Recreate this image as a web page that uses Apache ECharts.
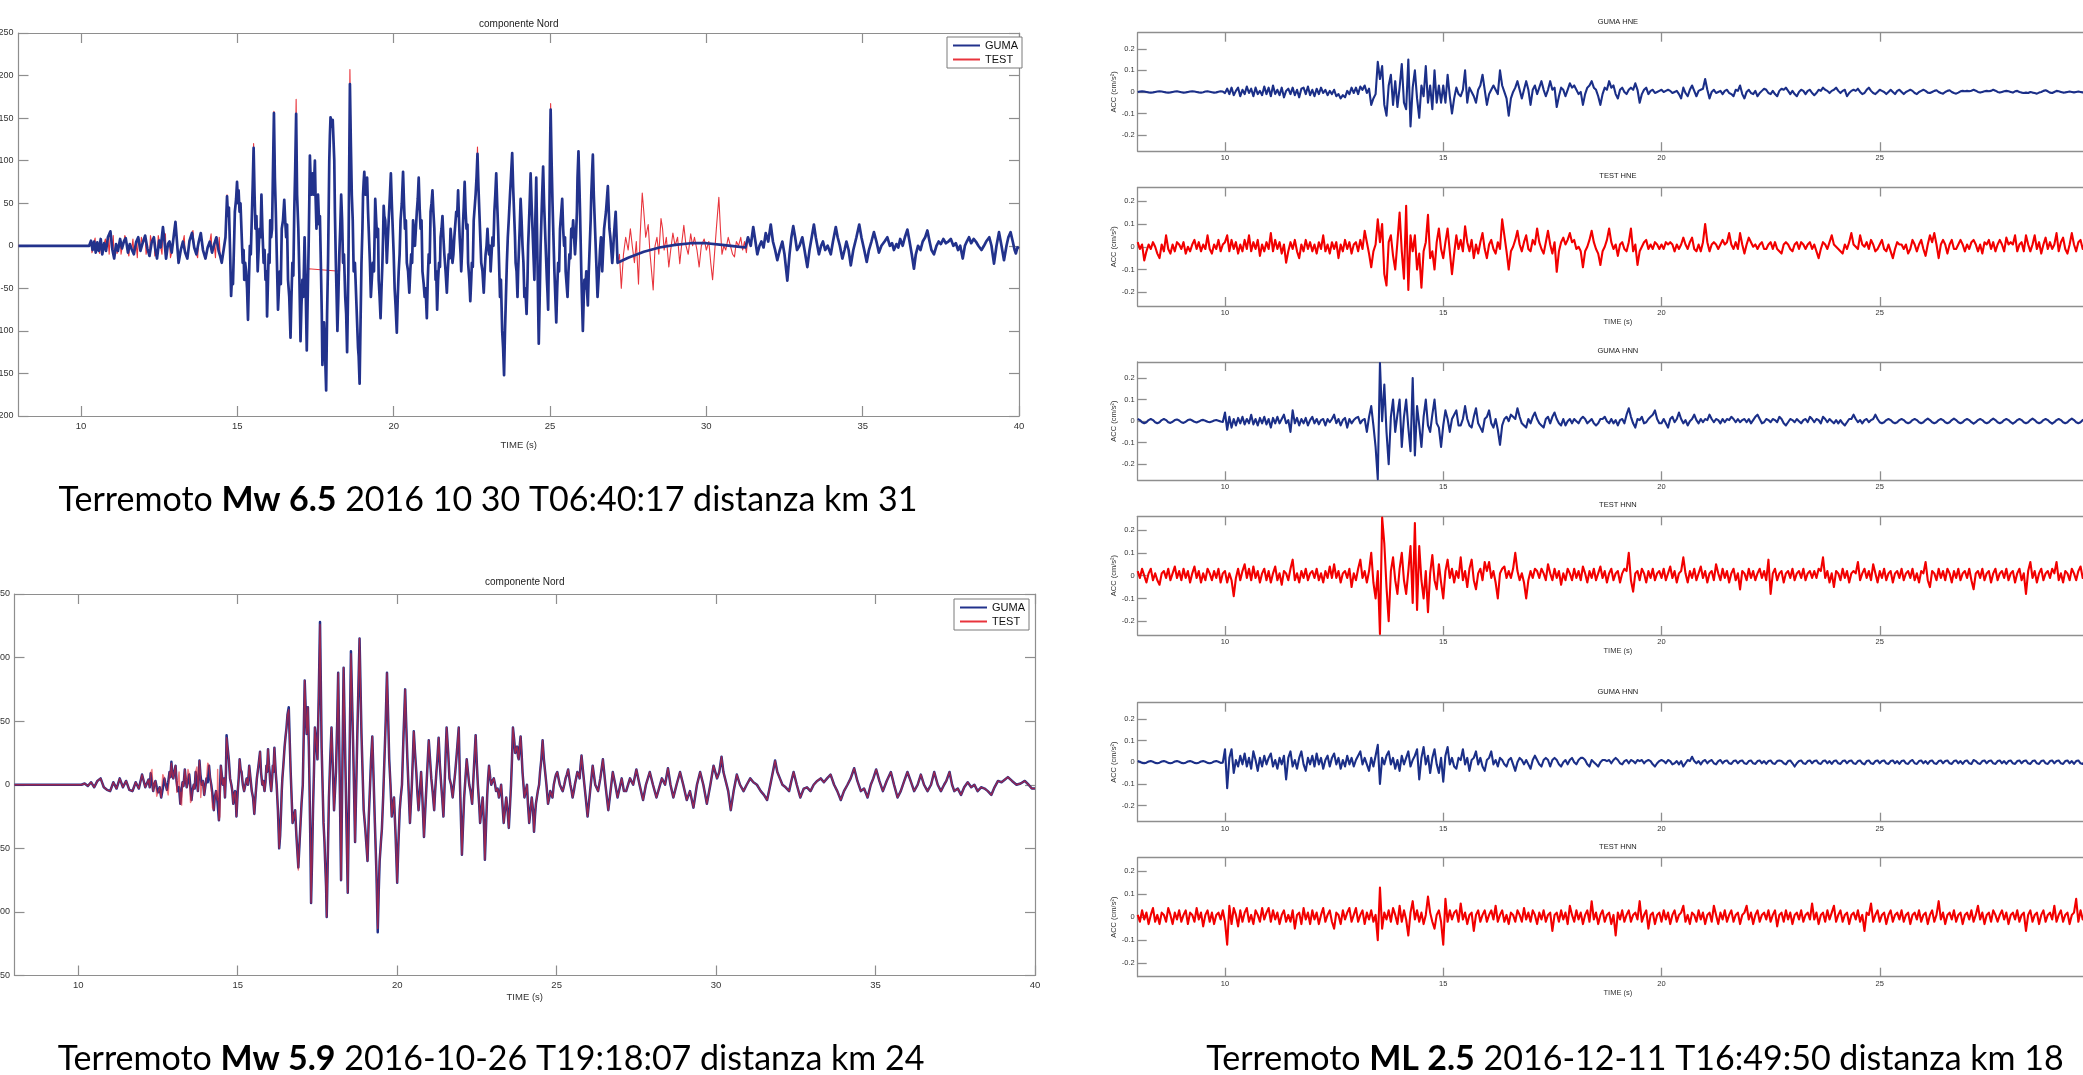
<!DOCTYPE html>
<html>
<head>
<meta charset="utf-8">
<script src="https://cdn.jsdelivr.net/npm/echarts@6.0.0/dist/echarts.min.js"></script>
<style>
html,body{margin:0;padding:0;background:#fff;}
#chart{width:2083px;height:1075px;}
</style>
</head>
<body>
<div id="chart"></div>
<script>
// ---------------- DATA ----------------
// Tick labels
const xTicksLeft = [10, 15, 20, 25, 30, 35, 40];
const xTicksRight = [10, 15, 20, 25];
const yTicksA = [-200, -150, -100, -50, 0, 50, 100, 150, 200, 250];
const yTicksB = [-150, -100, -50, 0, 50, 100, 150];
const yTicksR = [-0.2, -0.1, 0, 0.1, 0.2];

// Texts
const titleNord = 'componente Nord';
const timeLabel = 'TIME (s)';
const accLabel = 'ACC (cm/s²)';
const rightTitles = ['GUMA HNE', 'TEST HNE', 'GUMA HNN', 'TEST HNN', 'GUMA HNN', 'TEST HNN'];
const captionA = ['Terremoto ', 'Mw 6.5', ' 2016 10 30 T06:40:17 distanza km 31'];
const captionB = ['Terremoto ', 'Mw 5.9', ' 2016-10-26 T19:18:07 distanza km 24'];
const captionC = ['Terremoto ', 'ML 2.5', ' 2016-12-11 T16:49:50 distanza km 18'];

// Mw 6.5 - componente Nord, GUMA: [time s, acc]
const nordA_guma = [
[8,0],[10.26,0],[10.32,6],[10.37,-5],[10.42,5],[10.47,-8],[10.52,4],[10.57,-6],[10.63,8],[10.68,-10],[10.74,3],[10.8,-6],[10.86,10],[10.94,17],[11.0,-4],[11.06,-15],[11.12,2],[11.18,-6],[11.25,8],[11.31,-3],[11.37,5],[11.43,9],[11.5,-8],[11.56,2],[11.62,-4],[11.69,-10],[11.76,4],[11.83,10],[11.9,-6],[11.97,3],
[12.05,12],[12.12,-3],[12.19,-12],[12.26,4],[12.33,10],[12.38,-5],[12.43,-15],[12.5,6],[12.55,-2],[12.62,22],[12.67,5],[12.72,-15],[12.78,2],[12.83,5],[12.9,-8],[12.96,10],[13.02,28],[13.07,4],[13.12,-20],[13.19,-5],[13.26,5],[13.33,-8],[13.4,-15],[13.47,6],[13.55,15],[13.62,-2],[13.69,-10],[13.76,4],[13.83,15],[13.9,-5],[13.98,-15],
[14.05,-2],[14.12,5],[14.19,-8],[14.26,2],[14.33,10],[14.4,-6],[14.45,-12],[14.5,-20],[14.56,-5],[14.62,10],
[14.67,58],[14.7,35],[14.73,45],[14.77,-10],[14.8,-59],[14.83,-35],[14.86,-45],[14.9,10],[14.92,40],[14.96,55],[14.99,75],[15.02,50],[15.04,65],[15.07,40],[15.1,50],[15.14,10],[15.17,-20],[15.2,-5],[15.22,-40],[15.25,-20],[15.28,-30],[15.31,-50],[15.34,-87],[15.37,-40],[15.4,0],[15.43,-10],[15.46,30],[15.49,70],[15.52,115],[15.55,60],[15.58,20],[15.61,35],[15.65,-30],[15.68,-5],[15.71,20],[15.74,10],[15.77,60],[15.8,20],[15.84,-20],[15.87,-5],[15.9,-40],[15.93,-30],[15.95,-83],[15.98,-40],
[16.0,-10],[16.03,-20],[16.05,30],[16.08,10],[16.11,20],[16.14,90],[16.17,156],[16.2,80],[16.23,40],[16.26,-10],[16.3,-75],[16.33,-50],[16.36,-30],[16.39,-45],[16.42,20],[16.46,30],[16.5,54],[16.53,30],[16.56,10],[16.59,25],[16.62,-40],[16.66,-60],[16.7,-108],[16.73,-60],[16.76,-20],[16.79,-35],[16.82,40],[16.85,90],[16.88,155],[16.91,60],[16.95,20],[16.98,-30],
[17.02,-112],[17.05,-70],[17.08,-40],[17.11,-60],[17.15,10],[17.18,-40],[17.22,-123],[17.25,-60],[17.28,0],[17.3,50],[17.32,106],[17.35,70],[17.37,60],[17.39,75],[17.41,85],[17.44,60],[17.48,100],[17.5,60],[17.53,20],[17.55,40],[17.58,60],[17.6,40],[17.62,25],[17.64,35],[17.67,-20],[17.7,-80],[17.72,-140],[17.75,-110],[17.77,-90],[17.8,-120],[17.84,-170],[17.87,-80],[17.9,-20],[17.92,40],[17.94,100],[17.96,130],[17.98,151],
[18.0,145],[18.03,140],[18.05,148],[18.07,150],[18.1,100],[18.12,40],[18.15,-20],[18.2,-100],[18.23,-60],[18.26,-10],[18.29,20],[18.32,60],[18.35,30],[18.38,-20],[18.41,-10],[18.45,-60],[18.48,-80],[18.51,-125],[18.53,-80],[18.55,-30],[18.57,60],[18.6,190],[18.63,120],[18.66,60],[18.69,30],[18.72,-30],[18.76,-20],[18.8,-60],[18.83,-90],[18.86,-120],[18.88,-130],[18.91,-162],[18.94,-90],[18.97,-20],
[19.0,20],[19.02,60],[19.04,75],[19.06,87],[19.08,70],[19.1,60],[19.12,70],[19.15,80],[19.18,40],[19.21,10],[19.24,-20],[19.27,-60],[19.3,-40],[19.33,-20],[19.37,-30],[19.41,55],[19.44,30],[19.47,10],[19.5,20],[19.52,-40],[19.55,-60],[19.58,-85],[19.61,-50],[19.64,-20],[19.66,10],[19.68,47],[19.7,35],[19.73,30],[19.76,5],[19.78,-20],[19.81,5],[19.84,30],[19.88,60],[19.91,85],[19.94,50],[19.97,20],
[20.0,-10],[20.03,-50],[20.06,-70],[20.1,-102],[20.13,-60],[20.16,-30],[20.19,-10],[20.22,30],[20.26,50],[20.3,87],[20.33,50],[20.36,20],[20.39,30],[20.42,-20],[20.46,-30],[20.5,-55],[20.53,-30],[20.56,-10],[20.59,-20],[20.62,30],[20.65,15],[20.68,0],[20.71,20],[20.74,40],[20.77,55],[20.8,80],[20.83,45],[20.86,20],[20.89,30],[20.92,-30],[20.96,-45],[20.99,-60],
[21.02,-50],[21.06,-85],[21.09,-40],[21.12,-10],[21.15,-20],[21.18,40],[21.21,50],[21.24,65],[21.27,40],[21.3,20],[21.32,-10],[21.34,-40],[21.36,-30],[21.39,-75],[21.42,-40],[21.45,-20],[21.48,-25],[21.5,10],[21.53,20],[21.56,35],[21.59,10],[21.62,-10],[21.66,-30],[21.7,-55],[21.73,-30],[21.76,-10],[21.79,-15],[21.82,20],[21.85,5],[21.88,-20],[21.91,-10],[21.94,10],[21.97,25],
[22.0,40],[22.03,35],[22.06,65],[22.09,30],[22.11,10],[22.14,-10],[22.16,-30],[22.19,-5],[22.21,20],[22.24,45],[22.27,75],[22.3,40],[22.33,20],[22.36,25],[22.38,-20],[22.42,-40],[22.45,-65],[22.48,-40],[22.5,-20],[22.53,-25],[22.56,30],[22.59,45],[22.62,60],[22.65,80],[22.68,108],[22.71,70],[22.74,40],[22.77,10],[22.8,-20],[22.84,-30],[22.88,-55],[22.91,-30],[22.94,-10],[22.97,0],
[23.0,20],[23.02,5],[23.05,-10],[23.08,0],[23.1,-30],[23.13,-10],[23.16,10],[23.19,0],[23.22,40],[23.25,60],[23.28,85],[23.31,50],[23.34,20],[23.37,-20],[23.4,-60],[23.43,-40],[23.47,-100],[23.5,-120],[23.53,-152],[23.56,-100],[23.59,-60],[23.62,-20],[23.65,10],[23.68,30],[23.72,60],[23.75,80],[23.79,109],[23.82,70],[23.85,40],[23.88,10],[23.9,-20],[23.93,-30],[23.96,-60],[23.98,-30],
[24.01,0],[24.03,20],[24.06,55],[24.09,30],[24.12,0],[24.15,-20],[24.18,-60],[24.21,-50],[24.25,-80],[24.28,-40],[24.3,0],[24.34,40],[24.38,85],[24.41,50],[24.44,20],[24.47,-10],[24.5,-40],[24.53,30],[24.56,80],[24.58,30],[24.6,-20],[24.62,-70],[24.64,-115],[24.67,-60],[24.7,0],[24.74,50],[24.78,93],[24.81,50],[24.84,20],[24.87,-10],[24.9,-40],[24.92,-55],[24.94,-75],[24.96,-20],[24.98,40],
[25.0,110],[25.02,160],[25.05,100],[25.08,50],[25.11,10],[25.14,-30],[25.17,-60],[25.2,-90],[25.23,-50],[25.26,-20],[25.29,-30],[25.32,20],[25.35,35],[25.39,55],[25.42,20],[25.45,0],[25.48,10],[25.5,-30],[25.53,-45],[25.56,-60],[25.59,-30],[25.62,-10],[25.65,-15],[25.68,20],[25.71,10],[25.74,30],[25.77,10],[25.8,-10],[25.83,10],[25.86,40],[25.88,80],[25.91,111],[25.94,70],[25.96,40],
[26.0,-30],[26.02,-60],[26.05,-100],[26.08,-60],[26.1,-40],[26.13,-50],[26.16,-30],[26.18,-50],[26.21,-70],[26.24,-30],[26.27,0],[26.3,30],[26.32,60],[26.35,90],[26.37,107],[26.4,60],[26.43,30],[26.46,0],[26.48,-20],[26.5,-40],[26.52,-60],[26.55,-40],[26.58,-20],[26.6,-5],[26.63,10],[26.65,-10],[26.67,-30],[26.7,-5],[26.73,20],[26.76,30],[26.79,40],[26.82,55],[26.85,70],[26.88,40],[26.9,20],[26.93,10],[26.95,0],[26.97,-10],[26.99,-20],
[27.02,-5],[27.04,10],[27.07,25],[27.1,40],[27.13,10],[27.16,-20],
[27.5,-14],[28,-7],[28.5,-2],[29,1],[29.5,3],[30,3],[30.5,1],[31,-1],[31.25,-2],
[31.33,10],[31.42,0],[31.5,22],[31.57,5],[31.63,-10],[31.7,0],[31.76,5],[31.83,-2],[31.9,15],[31.98,5],[32.06,25],[32.13,5],[32.2,-5],[32.27,-17],[32.35,-5],[32.43,5],[32.5,-10],[32.59,-41],[32.66,-10],[32.72,10],[32.78,23],[32.84,10],[32.9,-5],[32.98,0],[33.07,10],[33.14,-5],[33.23,-25],[33.3,-5],[33.37,10],[33.44,25],[33.5,10],[33.55,0],[33.6,-10],[33.67,0],[33.73,5],[33.8,-5],[33.88,0],[33.98,-10],
[34.05,5],[34.14,22],[34.2,10],[34.27,0],[34.35,-15],[34.42,-5],[34.48,5],[34.55,-5],[34.62,-23],[34.7,-5],[34.8,10],[34.89,25],[34.96,10],[35.05,-5],[35.13,-19],[35.2,-5],[35.28,5],[35.36,16],[35.44,5],[35.52,-8],[35.6,0],[35.7,5],[35.79,10],[35.87,0],[35.94,3],
[36.0,-5],[36.08,2],[36.14,-2],[36.2,8],[36.28,0],[36.35,10],[36.43,19],[36.5,5],[36.57,-10],[36.64,-27],[36.7,-10],[36.77,0],[36.85,-5],[36.92,5],[37.0,10],[37.07,18],[37.14,5],[37.2,-5],[37.28,-10],[37.36,0],[37.43,5],[37.5,2],[37.58,8],[37.66,3],[37.74,5],[37.82,8],[37.9,0],[37.98,3],
[38.05,-5],[38.12,0],[38.2,-15],[38.27,0],[38.33,5],[38.4,10],[38.47,3],[38.55,8],[38.62,5],[38.7,0],[38.8,-5],[38.88,0],[38.95,5],[39.05,10],[39.12,0],[39.2,-21],[39.28,0],[39.36,16],[39.44,0],[39.52,-17],[39.6,0],[39.66,10],[39.73,16],[39.8,5],[39.86,-5],[39.9,-9],[39.95,-2],[40,-3]
];
// Mw 6.5 - TEST: where it departs from GUMA
const nordA_testGapWindow = [17.25, 18.3];
const nordA_testGap = [[17.27,-27],[18.27,-30]];
const nordA_testTailWindow = [27.17, 31.3];
const nordA_testTail = [
[27.22,-10],[27.28,-50],[27.35,-10],[27.42,10],[27.5,-5],[27.57,20],[27.63,0],[27.7,-20],[27.76,5],[27.83,-45],[27.88,10],[27.95,62],[28.0,40],[28.06,10],[28.14,25],[28.2,-10],[28.3,-52],[28.36,0],[28.42,10],[28.48,-10],[28.55,32],[28.6,20],[28.65,-5],[28.72,10],[28.8,-25],[28.86,-5],[28.93,15],
[29.0,0],[29.08,10],[29.15,-21],[29.22,5],[29.28,24],[29.35,0],[29.42,-10],[29.5,14],[29.56,0],[29.62,10],[29.7,-5],[29.77,-25],[29.84,0],[29.93,8],[30.0,-5],[30.08,5],[30.14,-20],[30.2,-40],[30.26,-10],[30.32,20],[30.4,57],[30.45,20],[30.5,-10],[30.56,0],[30.62,-5],[30.7,10],[30.77,0],[30.84,-10],[30.9,-13],[30.96,5],[31.03,0],[31.1,10],[31.16,-5],[31.22,5],[31.28,-8]
];
const nordA_testPeaks = [[14.67,60],[15.52,120],[16.17,158],[16.88,172],[18.6,207],[22.68,116],[25.02,167],[26.37,105]];
const nordA_testNoise = [
[10.35,-8],[10.45,9],[10.6,-9],[10.78,8],[10.9,-10],[11.03,12],[11.15,-9],[11.28,-10],[11.4,12],[11.53,-12],[11.66,8],[11.8,-14],[11.93,10],[12.08,-10],[12.22,12],[12.36,-12],[12.47,12],[12.59,-10],[12.7,14],[12.86,-14],[12.99,18],[13.15,-18],[13.3,12],[13.44,-16],[13.58,18],[13.73,-14],[13.87,16],[14.02,-16],[14.16,14],[14.3,-14],[14.42,10],[14.54,-22]
];

// Mw 5.9 - componente Nord, GUMA: [time s, acc]
const nordB_guma = [
[8,0],[10.1,0],[10.2,1],[10.3,-1],[10.4,2],[10.5,-2],[10.6,3],[10.7,5],[10.8,-2],[10.9,-4],[11.0,-5],[11.1,2],[11.2,-3],[11.3,5],[11.4,-2],[11.5,3],[11.6,-4],[11.7,-5],[11.8,2],[11.9,-3],[12.0,8],[12.1,-2],
[12.2,4],[12.24,-2],[12.27,9],[12.31,2],[12.35,-5],[12.38,0],[12.42,3],[12.46,-2],[12.5,-6],[12.55,-2],[12.6,-10],[12.65,-3],[12.7,5],[12.74,0],[12.78,-4],[12.82,2],[12.86,10],[12.89,6],[12.92,18],[12.95,8],[12.98,5],[13.01,10],[13.05,15],[13.08,3],[13.12,-5],[13.16,-2],[13.2,-15],[13.23,-6],[13.27,2],[13.3,-1],[13.34,12],[13.37,4],[13.4,-2],[13.44,3],[13.48,8],[13.52,-3],[13.55,-12],[13.58,-5],[13.62,0],[13.65,-3],[13.68,10],[13.72,3],[13.75,-5],[13.77,2],[13.8,19],[13.83,8],[13.87,0],[13.91,3],[13.95,-8],[13.98,-2],
[14.02,5],[14.06,2],[14.1,15],[14.13,6],[14.17,0],[14.21,-8],[14.25,-20],[14.28,-10],[14.32,-5],[14.36,-12],[14.41,-28],[14.44,-5],[14.47,15],[14.5,8],[14.53,0],[14.57,5],[14.6,-10],[14.63,10],[14.65,39],[14.68,30],[14.72,20],[14.76,5],[14.8,0],[14.83,-5],[14.86,-15],[14.89,-8],[14.92,-5],[14.94,-12],[14.96,-25],[15.0,-5],[15.03,5],[15.06,20],[15.09,12],[15.12,10],[15.16,0],[15.2,-5],[15.24,0],[15.28,5],[15.32,0],[15.36,15],[15.4,5],[15.44,-5],[15.48,-10],[15.52,-23],[15.56,-8],[15.6,5],[15.65,15],[15.7,26],[15.73,10],[15.77,0],[15.8,3],[15.84,-5],[15.87,2],[15.9,15],[15.92,10],[15.95,28],[15.98,15],
[16.0,10],[16.02,2],[16.05,-5],[16.08,5],[16.1,15],[16.12,10],[16.15,29],[16.19,10],[16.22,0],[16.26,-20],[16.3,-50],[16.33,-40],[16.36,-20],[16.38,-5],[16.4,5],[16.43,15],[16.47,30],[16.5,38],[16.53,45],[16.56,55],[16.6,61],[16.63,35],[16.66,10],[16.69,-10],[16.72,-30],[16.76,-25],[16.8,-20],[16.84,-40],[16.9,-65],[16.94,-45],[16.97,-30],
[17.0,-15],[17.04,0],[17.07,40],[17.1,82],[17.13,60],[17.16,40],[17.18,50],[17.2,61],[17.23,30],[17.25,0],[17.28,-50],[17.3,-93],[17.33,-60],[17.36,-20],[17.39,10],[17.42,45],[17.46,35],[17.5,20],[17.54,70],[17.58,128],[17.6,90],[17.63,30],[17.66,0],[17.69,-30],[17.72,-45],[17.74,-60],[17.77,-80],[17.79,-104],[17.83,-50],[17.86,-10],[17.9,20],[17.94,45],[17.98,15],
[18.02,-20],[18.05,-5],[18.08,10],[18.12,50],[18.15,88],[18.2,0],[18.24,-75],[18.28,10],[18.32,92],[18.38,10],[18.45,-85],[18.5,10],[18.55,105],[18.62,30],[18.68,-45],[18.75,40],[18.82,115],[18.88,40],[18.95,-20],
[19.0,-35],[19.07,-60],[19.11,-25],[19.15,0],[19.18,20],[19.22,38],[19.26,5],[19.3,-30],[19.35,-70],[19.39,-116],[19.42,-85],[19.45,-60],[19.49,-45],[19.52,-35],[19.56,-10],[19.6,20],[19.64,50],[19.68,88],[19.72,50],[19.75,20],[19.79,0],[19.83,-25],[19.87,-15],[19.9,-10],[19.95,-40],
[20.0,-77],[20.04,-45],[20.08,-20],[20.11,-10],[20.15,0],[20.2,40],[20.25,75],[20.28,50],[20.32,20],[20.36,-5],[20.4,-30],[20.43,-15],[20.46,0],[20.49,20],[20.52,42],[20.56,25],[20.6,10],[20.63,-5],[20.67,-20],[20.71,-5],[20.75,10],[20.79,-10],[20.84,-41],[20.88,-20],[20.92,0],[20.95,15],[20.99,35],
[21.03,20],[21.07,5],[21.11,-5],[21.16,-20],[21.19,-5],[21.23,10],[21.26,20],[21.3,37],[21.34,15],[21.38,0],[21.41,-10],[21.45,-25],[21.48,-5],[21.5,10],[21.52,25],[21.55,45],[21.6,25],[21.64,5],[21.69,0],[21.74,-10],[21.78,0],[21.82,10],[21.87,25],[21.93,45],[21.97,0],
[22.03,-55],[22.06,-35],[22.1,-10],[22.14,5],[22.18,20],[22.22,10],[22.26,0],[22.3,-5],[22.35,-15],[22.4,10],[22.46,39],[22.5,15],[22.53,0],[22.57,-15],[22.6,-30],[22.64,-20],[22.68,-10],[22.72,-30],[22.75,-59],[22.79,-30],[22.82,-10],[22.85,5],[22.88,15],[22.92,5],[22.95,0],[22.99,3],
[23.03,5],[23.07,0],[23.1,-5],[23.15,-3],[23.19,-10],[23.23,-5],[23.26,0],[23.3,-15],[23.34,-30],[23.38,-20],[23.42,-10],[23.46,-20],[23.5,-34],[23.54,-15],[23.57,0],[23.6,20],[23.63,45],[23.67,35],[23.7,25],[23.73,28],[23.76,30],[23.79,22],[23.81,20],[23.84,30],[23.87,38],[23.9,25],[23.93,10],[23.96,0],[23.99,-10],
[24.03,-5],[24.07,0],[24.1,-15],[24.14,-30],[24.18,-20],[24.22,-10],[24.26,-20],[24.29,-37],[24.32,-25],[24.35,-15],[24.38,-10],[24.41,-5],[24.45,0],[24.48,10],[24.52,20],[24.56,35],[24.6,20],[24.64,10],[24.68,0],[24.73,-15],[24.77,-10],[24.8,-5],[24.84,-5],[24.87,-10],[24.91,0],[24.95,5],[24.98,8],
[25.02,10],[25.06,5],[25.1,0],[25.15,-3],[25.19,-5],[25.24,0],[25.28,5],[25.32,8],[25.36,12],[25.4,5],[25.43,0],[25.47,-5],[25.5,-10],[25.54,-5],[25.57,0],[25.61,5],[25.65,10],[25.69,8],[25.72,5],[25.75,15],[25.78,23],[25.83,10],[25.87,0],[25.92,-12],[25.97,-25],
[26.01,-15],[26.05,-5],[26.13,15],[26.21,0],[26.3,-5],[26.37,5],[26.45,20],[26.53,0],[26.62,-20],[26.69,-5],[26.76,10],[26.84,0],[26.91,-10],[26.98,-2],[27.04,5],[27.11,-5],[27.18,-5],[27.3,5],[27.4,0],[27.5,12],[27.6,0],[27.71,-12],[27.8,0],[27.92,10],
[28.02,0],[28.13,-10],[28.22,-2],[28.3,5],[28.4,0],[28.49,13],[28.57,0],[28.66,-10],[28.76,0],[28.87,10],[28.97,0],[29.08,-12],[29.18,-5],[29.29,-18],[29.4,0],[29.5,10],[29.6,0],[29.71,-15],[29.82,0],[29.92,15],
[30.03,5],[30.1,10],[30.17,22],[30.23,10],[30.29,10],[30.38,-5],[30.46,-20],[30.55,-5],[30.65,8],[30.75,0],[30.86,-5],[30.96,0],[31.07,5],[31.17,2],[31.28,0],[31.4,-5],[31.5,-8],[31.6,-12],[31.7,0],[31.78,10],[31.85,19],[31.92,10],
[32.0,5],[32.08,0],[32.18,-2],[32.29,-5],[32.36,3],[32.43,10],[32.53,0],[32.64,-10],[32.75,-3],[32.85,-2],[32.96,-5],[33.06,0],[33.17,3],[33.28,5],[33.38,2],[33.48,5],[33.59,8],[33.7,0],[33.8,-5],[33.91,-12],
[34.01,-5],[34.12,0],[34.22,5],[34.33,13],[34.43,3],[34.54,-5],[34.64,-3],[34.75,-10],[34.85,0],[34.93,5],[35.02,12],[35.12,3],[35.23,-5],[35.35,3],[35.48,10],[35.58,0],[35.69,-10],[35.79,-5],[35.9,3],
[36.0,10],[36.1,3],[36.21,-5],[36.32,0],[36.42,8],[36.52,0],[36.63,-5],[36.74,0],[36.84,10],[36.95,0],[37.05,-5],[37.15,0],[37.22,3],[37.32,10],[37.4,0],[37.47,-5],[37.58,-3],[37.68,-8],[37.78,-2],[37.89,2],
[38.0,-2],[38.1,0],[38.2,-5],[38.31,-2],[38.42,-3],[38.52,-5],[38.63,-8],[38.73,-2],[38.84,3],[38.95,2],[39.05,4],[39.15,6],[39.28,3],[39.42,0],[39.55,1],[39.68,3],[39.8,0],[39.9,-3],[40,-3]
];
// Mw 5.9 - TEST: extra / different points (the rest coincides with GUMA)
const nordB_testDiff = [
[12.31,12],[12.46,-9],[12.65,8],[12.82,-8],[12.92,17],[13.09,-6],[13.16,10],[13.24,-16],[13.44,12],[13.52,-14],[13.72,14],[13.84,-10],[14.06,17],[14.21,-18],[14.37,12],[14.44,-25],[14.65,37],[16.6,59],[16.9,-67],[17.58,126],[18.55,103],[19.39,-113]
];

// ML 2.5 traces, sampled every 0.05 s from 8.0 s; one row = 0.5 s
const hneGuma = [
[0,.002,.003,.002,0,-.002,-.003,-.002,0,.002],
[.003,.002,0,-.002,-.003,-.002,0,.002,.003,.001],
[-.001,-.003,-.002,0,.002,.003,.002,0,-.002,-.003],
[-.001,.002,.003,.001,-.001,-.003,-.002,.001,.003,.002],
[-.005,.015,-.01,.02,-.015,.005,.02,-.02,.01,-.01],
[.025,-.005,.015,-.02,.02,-.01,.005,-.015,.025,-.01],
[.02,-.02,.03,-.01,.01,-.015,.02,-.025,.005,.015],
[-.01,.02,-.015,.01,-.025,.015,.02,-.01,.025,-.015],
[.01,-.02,.015,-.01,.02,-.005,.01,-.015,.005,-.01],
[.01,-.02,-.01,-.03,-.015,-.025,.005,-.01,.02,-.005],
[.02,-.01,.025,.01,.03,-.005,.015,-.06,-.03,-.01],
[.14,.06,.12,-.06,-.11,.03,.08,-.06,.05,-.07],
[.02,.13,-.05,-.08,.15,-.16,.02,.1,-.03,-.12],
[.03,-.02,.12,-.05,.03,-.08,.1,-.05,.03,-.05],
[.03,-.05,.08,-.02,-.1,-.03,.02,-.01,-.02,.01],
[.1,-.05,.02,0,-.02,-.05,.01,.03,.08,.01],
[-.06,-.01,.01,.03,.01,-.01,.1,.03,0,-.03],
[-.11,-.03,0,.02,.05,.01,-.03,.01,.05,.01],
[-.06,.01,.03,-.01,.02,.05,.01,-.02,.01,.05],
[.01,.02,-.07,-.02,.02,.01,-.02,.01,.04,.02],
[.03,.01,-.01,0,-.06,-.01,.02,.03,.05,.02],
[.01,-.02,-.06,-.01,.02,.01,.05,.02,.03,-.01],
[-.03,.01,.02,0,-.01,.01,.02,.01,.04,.01],
[-.05,-.01,.01,.02,-.01,.005,.01,-.005,0,.005],
[.01,0,.005,.01,.005,-.005,0,.005,-.01,-.03],
[.02,-.005,-.02,.01,.03,.005,-.02,.005,.01,.015],
[.06,.01,-.03,0,.01,-.005,0,.005,-.01,.005],
[.01,-.005,-.01,-.02,.01,.005,.03,-.01,-.03,0],
[.01,-.005,-.01,.005,-.02,-.005,.005,.015,.01,-.005],
[-.01,.005,-.01,-.02,.005,.015,.01,.02,.005,-.01],
[.005,-.01,-.02,0,.01,.005,-.01,.005,.01,-.005],
[-.015,-.005,.01,.005,.02,.01,.005,-.005,.005,.01],
[.02,.005,-.005,.005,.01,-.02,-.005,.005,.01,.005],
[.015,0,-.01,-.005,.01,.02,.005,-.005,-.01,0],
[.01,.005,0,-.01,0,.01,0,-.01,.005,.01],
[0,-.01,0,.005,.01,.005,-.005,-.01,0,.005],
[.01,.005,-.003,-.005,0,.005,.008,0,-.005,-.008],
[0,.005,.008,0,-.005,-.008,-.003,.003,.005,.003],
[.005,.003,.006,.01,.006,0,-.003,0,.003,.005],
[.003,.005,.01,.006,0,-.003,0,.003,.005,.003],
[0,-.003,.003,.005,0,-.003,-.005,-.003,-.005,0],
[-.003,-.005,-.008,-.003,0,.005,.008,.003,-.003,-.005],
[0,.005,.003,0,-.003,-.002,0,.002,0,-.002],
[0,.002,0,-.002,0,.002,0,0,0,0]
];
const hneTest = [
[.02,-.01,.01,-.06,-.02,.01,-.01,.02,0,-.03],
[-.05,.01,-.02,.05,-.01,-.03,.01,-.02,.02,.01],
[-.01,.02,-.03,0,-.02,.01,.03,-.01,.02,-.02],
[.01,-.01,.05,-.01,-.03,.01,-.01,.03,-.02,.01],
[.02,.05,-.02,.03,-.01,.02,-.03,.01,-.02,.03],
[-.01,.05,-.02,.02,-.01,.03,-.04,.01,-.02,.02],
[-.01,.06,-.02,.03,-.01,.02,-.03,.01,-.07,-.02],
[.02,-.01,.03,-.02,-.05,.01,-.02,.03,-.01,.02],
[-.02,.01,-.03,.02,-.01,.05,-.02,.01,-.03,.02],
[-.01,.02,-.05,.01,-.02,.03,-.01,.02,-.03,.01],
[.02,-.02,.03,-.01,.07,.02,-.03,-.09,-.02,.01],
[.12,.02,.1,-.12,-.17,.02,.05,-.04,-.1,.02],
[.15,-.02,-.14,.18,-.19,.05,-.02,.05,-.1,-.03],
[-.18,-.02,.02,.14,-.05,-.02,-.1,.02,.08,-.01],
[-.05,.02,.08,-.02,-.12,-.03,.05,-.01,.03,-.02],
[.09,.02,-.02,.03,-.05,.01,-.03,.02,.06,-.01],
[-.05,.01,.03,-.01,-.03,.02,-.01,.12,.05,-.02],
[-.1,-.02,0,.03,.07,.01,-.02,.02,.05,-.01],
[-.02,.03,.01,.08,.02,-.01,-.03,.02,.07,.01],
[-.03,.02,-.11,-.02,.02,.04,.01,.03,.06,.02],
[.03,-.01,0,-.02,-.09,-.02,0,.03,.07,.02],
[-.01,-.03,-.08,-.02,0,.03,.08,.02,-.01,.01],
[-.04,.01,.02,-.01,-.02,.02,.08,-.02,.01,-.08],
[-.02,0,.02,.03,-.01,.01,-.01,.02,.01,-.01],
[.01,-.01,.02,.01,.02,.01,-.02,.01,-.01,.01],
[.04,.01,-.01,.02,.04,-.01,-.02,.01,-.02,.02],
[.1,.02,-.02,.01,.02,.01,-.01,.01,.03,.01],
[.02,.06,.01,-.01,.02,-.01,.06,.01,-.03,.01],
[.04,.02,0,.01,-.01,.01,.02,-.01,-.01,.01],
[.02,-.01,.02,-.01,-.02,-.03,.01,.02,.01,-.01],
[-.02,.01,.02,-.01,.02,.01,-.01,.01,.02,-.01],
[.01,-.02,-.05,-.01,.02,.01,-.01,.02,.05,.01],
[0,-.01,-.02,-.03,.01,-.01,.02,.06,.01,0],
[-.01,.05,.01,0,.02,-.01,.03,.01,-.02,-.01],
[.01,.03,-.01,-.02,.01,-.02,-.05,-.01,.02,.01],
[.01,-.01,.01,-.03,-.01,.03,.01,-.02,.01,.03],
[-.01,-.04,.01,.05,.02,.06,.01,-.05,.01,.03],
[.01,-.03,.01,.03,-.01,-.01,.01,.03,.01,-.02],
[.01,-.01,.02,.03,.01,-.02,.01,-.03,.02,.01],
[.03,-.01,.02,-.02,.01,.03,.01,-.02,.04,.01],
[.02,.01,.05,-.02,.01,.02,-.02,.05,.01,-.02],
[.01,.05,-.01,.02,-.03,.01,.04,-.01,.02,-.01],
[.01,.06,-.02,.02,.04,-.01,-.03,.01,.06,.01],
[-.02,.02,.03,-.01,.02,.01,-.02,.01,.03,.01]
];
const hnnGuma = [
[.01,.005,-.005,-.01,-.005,.005,.01,.005,-.005,-.01],
[-.005,.005,.01,.005,-.005,-.008,-.003,.005,.008,.003],
[-.005,-.008,-.003,.005,.008,.003,-.003,-.006,-.002,.004],
[.006,.002,-.003,-.005,-.002,.003,.005,.002,-.002,-.004],
[.04,-.04,.02,-.03,.01,-.02,.015,-.01,.02,-.015],
[.01,-.01,.03,-.015,.01,-.02,.015,-.01,.02,-.015],
[.01,-.03,.015,-.01,.02,-.01,.01,.03,-.01,.005],
[-.05,.05,-.01,.015,-.02,.01,-.01,.015,-.02,.005],
[.02,-.01,.01,-.015,.005,.01,-.02,.01,-.005,.01],
[.03,-.01,.01,-.02,.005,.015,-.03,.01,-.01,.005],
[.015,.02,-.01,.005,.01,-.05,.02,.07,-.02,-.12],
[-.27,.27,0,.17,-.05,-.2,.02,.1,-.05,.03],
[.1,-.12,.02,.1,-.03,-.14,.2,-.16,.07,-.02],
[-.12,.02,.1,-.02,-.05,.03,.1,-.01,-.03,-.12],
[-.02,.05,.01,-.05,.01,.03,.05,-.02,-.02,.01],
[.07,.01,-.02,-.03,.02,.06,-.01,-.03,-.05,.01],
[.02,.05,-.01,-.03,.01,-.04,-.11,-.02,.01,.02],
[0,.03,.02,.01,.06,.02,-.01,-.02,-.03,.01],
[-.01,.02,.04,.01,-.01,-.02,-.03,.01,.02,-.01],
[.02,.04,.01,-.01,-.02,.01,-.02,0,.01,-.01],
[.01,0,-.01,.01,.02,.01,-.01,0,.01,-.01],
[-.02,-.01,.01,.01,.02,0,-.01,.01,-.01,.005],
[-.02,.005,.01,-.01,.03,.06,.02,-.01,-.03,.01],
[.005,.02,-.01,-.005,.01,.02,.03,.05,.01,-.01],
[-.01,.01,-.01,-.03,.01,.02,-.005,.01,.04,.01],
[-.01,.005,-.02,0,.01,.03,.005,-.01,.01,-.005],
[.01,.005,.03,.01,-.005,.01,.005,-.01,.01,-.005],
[.01,.005,.02,.01,-.005,.01,-.005,.005,.01,-.005],
[.01,-.01,.005,.02,.03,.01,-.01,-.005,.01,.005],
[-.005,.01,.005,-.005,.02,.01,-.01,-.02,-.005,.01],
[.005,-.005,.01,0,-.01,.005,.01,-.005,.02,.01],
[-.005,.01,.005,-.01,.02,.01,-.005,.01,0,-.01],
[.005,-.01,.005,-.01,-.02,-.005,.01,.01,.03,.01],
[-.005,.005,-.01,.005,.01,-.005,.005,.01,.03,.01],
[-.005,-.01,-.005,.005,.01,.005,-.005,-.01,-.005,.005],
[.01,.005,-.005,-.01,-.005,.005,.01,.005,-.005,-.01],
[-.005,.005,.012,.005,-.005,-.01,-.005,.005,.01,.005],
[-.005,-.01,-.005,.005,.012,.005,-.005,-.01,-.005,.005],
[.01,.005,-.005,-.012,-.005,.005,.01,.005,-.005,-.01],
[-.005,.005,.012,.005,-.005,-.01,-.005,.005,.01,.005],
[-.005,-.012,-.005,.005,.01,.005,-.005,-.01,-.005,.005],
[.012,.005,-.005,-.01,-.005,.005,.01,.005,-.005,-.012],
[-.005,.005,.01,.005,-.005,-.01,-.005,.005,.012,.005],
[-.005,-.01,-.005,.005,.01,.005,-.005,-.01,-.005,.005]
];
const hnnTest = [
[.02,-.01,.03,0,-.03,.01,.03,-.02,.01,-.02],
[-.04,.01,.02,-.01,.03,-.02,.01,.04,-.01,.02],
[-.02,.03,-.01,.02,-.03,.01,.04,-.01,.02,-.03],
[.01,-.02,.03,.01,-.02,.02,-.01,.03,-.03,.01],
[.02,-.03,.01,-.02,-.09,-.01,.03,-.02,.02,.05],
[-.01,.03,-.02,.04,-.01,.02,-.03,.01,.03,-.02],
[.02,-.03,.01,.04,-.02,.01,-.04,.02,.01,-.02],
[.03,.07,-.02,.01,-.03,.02,-.01,.03,-.02,.01],
[.02,-.01,.03,-.02,.01,-.03,.02,-.01,.04,-.01],
[.05,-.01,.02,-.03,.01,.02,-.01,.03,-.05,.01],
[-.02,.03,.07,-.01,.02,-.03,.02,.1,-.03,-.1],
[.02,-.255,.255,.14,-.05,-.2,.02,.08,-.02,-.08],
[.03,.1,-.02,-.08,.02,.13,-.12,.23,-.15,.13],
[-.02,-.1,.02,-.16,.01,.09,-.02,-.06,.05,-.03],
[-.1,.02,.07,-.01,.03,-.03,.02,-.01,.08,-.02],
[.02,-.05,.03,.07,-.02,-.06,.01,.03,-.02,.06],
[.02,.06,-.01,.02,-.03,-.1,.01,.03,.04,-.01],
[.02,-.01,.03,.1,.02,-.02,.01,-.03,-.1,-.02],
[.02,-.01,.03,.02,-.01,.03,.01,-.02,.05,.01],
[-.02,.03,-.01,.02,-.04,.01,-.02,.03,.01,-.02],
[.03,-.01,.02,-.02,.04,.01,-.03,.02,-.01,.03],
[-.02,.01,.04,-.01,.02,-.03,.01,.03,-.02,.01],
[.02,-.03,.01,.03,.02,.1,-.02,-.07,.01,.02],
[-.02,.03,.01,-.03,.02,-.01,.03,-.02,.01,.02],
[-.01,.03,-.02,.01,.04,-.01,.02,-.03,.01,.02],
[.08,.01,-.03,.02,-.01,.03,-.02,.01,.04,-.01],
[.02,-.03,.01,.02,-.02,.05,.01,-.02,.03,-.01],
[.02,-.03,.01,.03,-.02,.01,-.06,.02,.01,-.02],
[.03,-.01,.02,-.02,.01,.03,-.01,.02,-.02,.07],
[-.08,.01,.03,-.02,.01,.02,-.03,.01,.02,-.01],
[.03,-.02,.01,.02,-.01,.03,-.02,.01,.02,-.01],
[.02,-.01,.03,.02,.08,-.01,.02,-.03,.01,-.05],
[.02,.01,-.02,.03,-.01,.02,-.03,.01,.02,.01],
[.06,-.02,.01,.03,-.01,.02,-.02,.05,.01,-.03],
[.02,-.01,.03,-.02,.01,.02,-.03,.01,.02,-.01],
[.03,-.02,.01,.02,-.01,.03,-.02,.01,-.03,.02],
[.01,.06,-.02,-.05,.02,.01,-.02,.03,-.01,.02],
[-.02,.03,.01,-.03,.02,-.01,.03,-.02,.01,.02],
[-.01,.03,-.02,-.06,.01,.02,-.01,.03,-.02,.01],
[.02,-.03,.01,.03,-.02,.01,.02,-.01,.03,-.02],
[.01,.02,-.03,.01,.03,-.02,.01,-.08,.02,.06],
[-.01,.02,-.03,.01,.03,-.02,.01,.02,-.01,.03],
[.01,.06,-.02,.01,-.03,.02,.01,-.02,.03,.01],
[-.02,.02,.04,-.01,.02,-.03,.01,.03,-.02,.01]
];
const hnn2Guma = [
[.005,.002,-.003,-.005,-.002,.003,.005,.002,-.003,-.005],
[-.002,.003,.005,.002,-.003,-.005,-.002,.003,.005,.002],
[-.003,-.005,-.002,.003,.005,.002,-.003,-.005,-.002,.003],
[.005,.002,-.003,-.005,-.002,.003,.005,.002,-.003,-.002],
[.06,-.12,.02,.06,-.05,.01,-.02,.03,-.01,.04],
[-.02,.02,-.03,.05,.01,-.04,.02,-.02,.03,-.01],
[.02,.04,-.02,.01,-.03,.02,-.01,.03,-.08,.02],
[.05,-.02,.01,-.03,.02,.05,-.01,-.04,.02,-.01],
[.03,-.02,.04,-.01,.02,-.03,.01,.03,-.02,.02],
[.04,-.01,.02,-.03,.01,-.02,.03,-.01,.02,-.02],
[.01,.03,.05,-.01,.02,-.01,-.04,.02,-.02,.03],
[.08,-.1,.02,-.01,.03,.05,-.01,.02,-.03,.01],
[-.04,.03,-.01,.02,.05,-.02,.01,.03,.06,-.08],
[.02,.07,-.01,.03,-.05,.02,.06,-.01,-.05,.02],
[-.09,.03,.07,-.01,.02,-.02,-.03,.02,.01,.06],
[-.01,.02,-.04,.01,.02,.05,-.01,.02,-.02,-.04],
[.01,.02,.05,-.01,.01,-.02,.02,.01,-.01,-.02],
[.01,.02,-.01,-.04,0,.02,.01,-.01,.01,-.01],
[-.03,.01,.03,.01,-.01,-.02,.01,.02,.01,-.02],
[.01,.02,.01,-.01,-.02,0,.01,-.01,.01,.02],
[0,-.01,.01,.02,.02,.01,-.01,-.02,.01,0],
[-.01,-.02,0,.01,.01,.005,.01,-.005,.01,.02],
[.01,-.005,-.01,.005,.01,-.005,.01,.005,-.005,.01],
[.005,.01,-.005,.005,.01,.005,-.01,-.02,-.005,.005],
[.01,.005,-.005,.01,.005,-.01,-.005,.005,-.01,.005],
[-.02,-.005,.01,.005,.025,.005,-.005,.005,-.01,.005],
[.01,-.005,.005,.01,-.005,-.01,.005,.01,-.005,.005],
[.008,-.005,-.008,.005,.008,-.005,.005,.008,-.005,-.008],
[.005,.008,-.005,-.008,.005,.008,-.005,.005,-.008,.005],
[.008,-.005,-.008,.005,.008,.005,-.005,-.01,.005,.008],
[-.005,-.02,-.005,.005,.008,-.005,-.008,.005,.008,-.005],
[.005,.008,-.005,-.008,.005,.008,-.005,.005,-.008,.005],
[.008,-.005,-.008,.005,.008,-.005,.005,.008,-.005,-.008],
[.005,.008,-.005,-.01,.005,.008,-.005,-.008,.005,.008],
[-.005,.005,.008,-.005,-.008,.005,.008,-.005,.005,-.008],
[.005,.008,-.005,-.008,.005,.01,-.005,-.008,.005,.008],
[-.005,.005,-.008,.005,.008,-.005,-.008,.005,.008,-.005],
[.005,.008,-.005,-.008,.005,.008,-.005,.005,-.008,.005],
[.008,-.005,-.008,.01,.005,-.005,-.008,.005,.008,-.005],
[.005,.008,-.005,-.008,.005,.008,-.005,.005,-.008,.005],
[.008,-.005,-.008,.005,.008,-.005,.005,.008,-.005,-.008],
[.005,.008,-.005,-.008,.005,.008,-.005,-.008,.005,.008],
[-.005,.005,.008,-.005,-.008,.005,.008,-.005,.005,-.008],
[.005,.008,-.005,-.008,.005,.008,-.005,-.008,.005,.008]
];
const hnn2Test = [
[.01,-.02,.03,-.01,.02,-.03,.01,.04,-.02,.01],
[-.03,.02,.01,-.02,.04,.01,-.03,.02,-.01,.03],
[-.02,.01,.03,-.03,.02,.01,-.02,.04,-.01,.02],
[-.04,.01,.03,-.02,.02,-.03,.01,.02,-.01,.03],
[-.02,-.12,.05,-.03,.04,.01,-.04,.03,-.02,.02],
[.04,-.02,.01,-.03,.03,.01,-.02,.04,-.01,.02],
[.04,-.02,.03,-.01,.02,-.03,.01,.03,-.02,.01],
[-.02,.03,-.05,.01,.02,-.03,.04,-.01,.02,-.03],
[.03,-.01,.02,-.03,.01,.04,-.02,.01,.03,-.02],
[-.05,.02,.01,-.03,.03,-.01,.02,.04,-.02,.01],
[.04,-.02,.01,.03,-.03,.02,-.01,.03,-.02,.01],
[-.1,.13,-.05,.02,-.01,.03,-.02,.04,.01,-.03],
[.05,-.02,.03,-.01,-.08,.02,.07,-.01,.03,-.02],
[.02,-.03,.01,.09,.02,-.02,-.05,.01,.03,-.02],
[-.12,.08,-.02,.03,-.01,.02,.03,-.02,.06,-.01],
[.02,-.03,.01,.02,-.06,.01,.03,-.02,.01,.03],
[-.02,.01,.03,-.01,.05,-.02,.01,.03,-.02,.01],
[-.03,.02,.01,-.02,.03,.01,-.02,.04,-.01,.02],
[-.02,.03,.01,-.03,.02,-.01,.03,-.02,.01,.02],
[-.06,.01,.02,-.02,.03,-.01,.02,-.03,.05,.01],
[-.02,.03,-.01,.02,-.03,.01,.03,-.02,.07,-.01],
[.02,-.03,.01,.03,-.02,.01,.02,-.03,.01,-.08],
[.02,-.01,.03,-.02,.01,.03,-.02,.01,.02,-.01],
[.07,-.02,.01,.03,-.05,.01,.02,-.03,.01,.02],
[-.02,.03,-.01,.02,-.03,.01,.03,-.02,.01,.02],
[.05,-.02,.01,-.03,.02,.01,-.02,.03,-.01,.02],
[-.03,.01,.02,-.02,.05,.01,-.03,.02,-.01,.03],
[-.02,.01,.03,-.02,.01,.02,-.03,.01,.02,.05],
[-.01,.02,-.03,.01,.03,-.02,.01,.02,-.01,.03],
[-.02,.01,.03,-.04,.01,.02,-.02,.03,-.01,.02],
[-.03,.01,.02,-.01,.03,-.02,.01,.02,-.01,.06],
[-.01,.02,-.03,.01,.02,-.02,.03,-.01,.02,.05],
[-.02,.01,.03,-.02,.01,.02,-.03,.01,.02,-.01],
[.03,-.02,.01,-.06,.02,.01,.06,-.02,.01,.03],
[-.02,.01,.02,-.03,.01,.03,-.02,.01,.02,-.01],
[.03,-.02,.01,.02,-.03,.01,.02,-.01,.03,-.02],
[.01,.02,-.03,.01,.03,-.02,.01,.07,-.01,.02],
[-.03,.01,.02,-.01,.03,-.02,.01,.02,-.03,.01],
[.02,-.01,.03,-.02,.01,.05,-.01,.02,-.03,.01],
[.02,-.02,.03,.01,-.02,.01,.03,-.01,.02,-.03],
[.01,.02,-.01,.03,-.02,.01,.02,-.06,.01,.03],
[-.02,.01,.02,-.03,.01,.03,-.02,.01,.02,-.01],
[.05,-.02,.01,.03,-.02,.01,.02,-.03,.01,.02],
[.08,-.02,.03,-.01,.02,.01,-.03,.02,.01,-.02]
];
const RIGHT_T0 = 8, RIGHT_ROW = 0.5, RIGHT_DT = 0.05;

// ---------------- BUILD ----------------
function rowsToPairs(rows) {
  const out = [];
  rows.forEach((row, r) => row.forEach((v, j) => {
    out.push([+(RIGHT_T0 + r * RIGHT_ROW + j * RIGHT_DT).toFixed(3), v]);
  }));
  return out;
}
function mergeTrace(base, windows, extra) {
  const extraT = new Set(extra.map(p => p[0]));
  const kept = base.filter(p => !extraT.has(p[0]) && !windows.some(w => p[0] > w[0] && p[0] < w[1]));
  return kept.concat(extra).sort((a, b) => a[0] - b[0]);
}
const nordA_test = mergeTrace(nordA_guma, [nordA_testGapWindow, nordA_testTailWindow],
  nordA_testGap.concat(nordA_testTail, nordA_testPeaks, nordA_testNoise));
const nordB_test = mergeTrace(nordB_guma, [], nordB_testDiff);

const FONT = 'Liberation Sans, Arial, Helvetica, sans-serif';
const BOX = '#8e8e8e';
const grids = [
  { left: 18.5, top: 33, width: 1000.5, height: 383 },
  { left: 14.5, top: 594, width: 1020.5, height: 381.5 },
  { left: 1137.7, top: 32.7, width: 960.3, height: 118.5 },
  { left: 1137.7, top: 187.5, width: 960.3, height: 118.5 },
  { left: 1137.7, top: 362, width: 960.3, height: 118.3 },
  { left: 1137.7, top: 516.3, width: 960.3, height: 118.7 },
  { left: 1137.7, top: 702.7, width: 960.3, height: 119 },
  { left: 1137.7, top: 857.7, width: 960.3, height: 119 }
].map(g => Object.assign({ containLabel: false, outerBoundsMode: 'none', show: false }, g));

const xAxes = [], yAxes = [];
function addAxes(c) {
  const line = { show: true, onZero: false, lineStyle: { color: BOX, width: c.lw } };
  const tick = { show: true, inside: true, length: c.tickLen, lineStyle: { color: BOX, width: c.lw } };
  xAxes.push({
    type: 'value', gridIndex: c.grid, min: c.xMin, max: c.xMax, position: 'bottom',
    axisLine: line, axisTick: Object.assign({ customValues: c.xTicks }, tick),
    axisLabel: { customValues: c.xTicks, margin: c.xMargin, fontSize: c.xFont, color: '#333', fontFamily: FONT },
    splitLine: { show: false },
    name: c.xName || '', nameLocation: 'middle', nameGap: c.xNameGap || 0,
    nameTextStyle: { fontSize: c.nameFont, color: '#333', fontFamily: FONT }
  });
  xAxes.push({
    type: 'value', gridIndex: c.grid, min: c.xMin, max: c.xMax, position: 'top',
    axisLine: line, axisTick: Object.assign({ customValues: c.xTicks }, tick),
    axisLabel: { show: false }, splitLine: { show: false },
    name: c.title, nameLocation: 'middle', nameGap: c.titleGap,
    nameTextStyle: { fontSize: c.titleFont, color: '#222', fontFamily: FONT }
  });
  yAxes.push({
    type: 'value', gridIndex: c.grid, min: c.yMin, max: c.yMax, position: 'left',
    axisLine: line, axisTick: Object.assign({ customValues: c.yTicks }, tick),
    axisLabel: { customValues: c.yTicks, margin: c.yMargin, fontSize: c.yFont, color: '#333', fontFamily: FONT,
      formatter: v => (Math.abs(v) < 1e-9 ? '0' : String(+(+v).toFixed(2))) },
    splitLine: { show: false },
    name: c.yName || '', nameLocation: 'middle', nameGap: c.yNameGap || 0, nameRotate: 90,
    nameTextStyle: { fontSize: c.yNameFont || 8, color: '#333', fontFamily: FONT }
  });
  yAxes.push({
    type: 'value', gridIndex: c.grid, min: c.yMin, max: c.yMax, position: 'right',
    axisLine: line, axisTick: Object.assign({ customValues: c.yTicks }, tick),
    axisLabel: { show: false }, splitLine: { show: false }
  });
}
addAxes({ grid: 0, xMin: 8, xMax: 40, xTicks: xTicksLeft, yMin: -200, yMax: 250, yTicks: yTicksA,
  lw: 1.2, tickLen: 10, xMargin: 5, xFont: 9.5, yMargin: 5, yFont: 9,
  xName: timeLabel, xNameGap: 24, nameFont: 9.5, title: titleNord, titleGap: 4, titleFont: 10 });
addAxes({ grid: 1, xMin: 8, xMax: 40, xTicks: xTicksLeft, yMin: -150, yMax: 150, yTicks: yTicksB,
  lw: 1.2, tickLen: 10, xMargin: 5, xFont: 9.5, yMargin: 4.5, yFont: 9,
  xName: timeLabel, xNameGap: 17, nameFont: 9.5, title: titleNord, titleGap: 7, titleFont: 10 });
const rightRanges = [0.275, 0.26, 0.275, 0.26, 0.275, 0.26];
const rightTitleGaps = [7, 7.5, 7.5, 7, 6.7, 7.2];
for (let k = 0; k < 6; k++) {
  addAxes({ grid: 2 + k, xMin: 8, xMax: 30, xTicks: xTicksRight, yMin: -rightRanges[k], yMax: rightRanges[k], yTicks: yTicksR,
    lw: 1.3, tickLen: 9, xMargin: 3, xFont: 7.5, yMargin: 3, yFont: 7.5,
    xName: (k % 2 === 1) ? timeLabel : '', xNameGap: 11.5, nameFont: 7.5,
    title: rightTitles[k], titleGap: rightTitleGaps[k], titleFont: 7.5,
    yName: accLabel, yNameGap: 19, yNameFont: 7.5 });
}

const series = [];
function addLine(name, grid, data, color, width, opacity) {
  series.push({
    type: 'line', name, xAxisIndex: 2 * grid, yAxisIndex: 2 * grid, data,
    showSymbol: false, symbol: 'none', animation: false, silent: true,
    lineStyle: { color, width, opacity: opacity == null ? 1 : opacity, join: 'round' },
    itemStyle: { color }
  });
}
addLine('TEST', 0, nordA_test, '#e8343c', 1.1, 1);
addLine('GUMA', 0, nordA_guma, '#22328c', 2.7, 1);
addLine('GUMA', 1, nordB_guma, '#22308a', 2.5, 1);
addLine('TEST', 1, nordB_test, '#e8202a', 1.4, 0.6);
const rightData = [hneGuma, hneTest, hnnGuma, hnnTest, hnn2Guma, hnn2Test];
const rightNames = ['GUMA HNE ', 'TEST HNE ', 'GUMA HNN ', 'TEST HNN ', 'GUMA HNN  ', 'TEST HNN  '];
for (let k = 0; k < 6; k++) {
  addLine(rightNames[k], 2 + k, rowsToPairs(rightData[k]), k % 2 === 0 ? '#1b2f88' : '#f20000', 2.1, 1);
}

function legendAt(left, top) {
  return {
    data: ['GUMA', 'TEST'], left, top, orient: 'vertical', selectedMode: false,
    itemWidth: 27, itemHeight: 8, itemGap: 3, padding: [3, 4, 3, 5],
    itemStyle: { opacity: 0, color: 'rgba(0,0,0,0)', borderWidth: 0 },
    borderColor: '#7a7a7a', borderWidth: 1, backgroundColor: '#fff',
    textStyle: { fontSize: 11, color: '#111', fontFamily: FONT }
  };
}

function caption(parts, x, y) {
  return {
    type: 'text', x, y, silent: true,
    style: {
      text: '{a|' + parts[0] + '}{b|' + parts[1] + '}{a|' + parts[2] + '}',
      align: 'center', verticalAlign: 'middle', textAlign: 'center', textVerticalAlign: 'middle',
      rich: {
        a: { fontSize: 34, fontFamily: 'Lato', fill: '#000' },
        b: { fontSize: 34, fontFamily: 'Lato', fontWeight: 'bold', fill: '#000' }
      }
    }
  };
}

const chart = echarts.init(document.getElementById('chart'), null, { renderer: 'canvas' });
chart.setOption({
  backgroundColor: '#fff',
  animation: false,
  grid: grids,
  xAxis: xAxes,
  yAxis: yAxes,
  legend: [legendAt(947, 37), legendAt(954, 599)],
  series,
  graphic: [
    caption(captionA, 488, 500),
    caption(captionB, 491, 1059),
    caption(captionC, 1635, 1059)
  ]
});
</script>
</body>
</html>
